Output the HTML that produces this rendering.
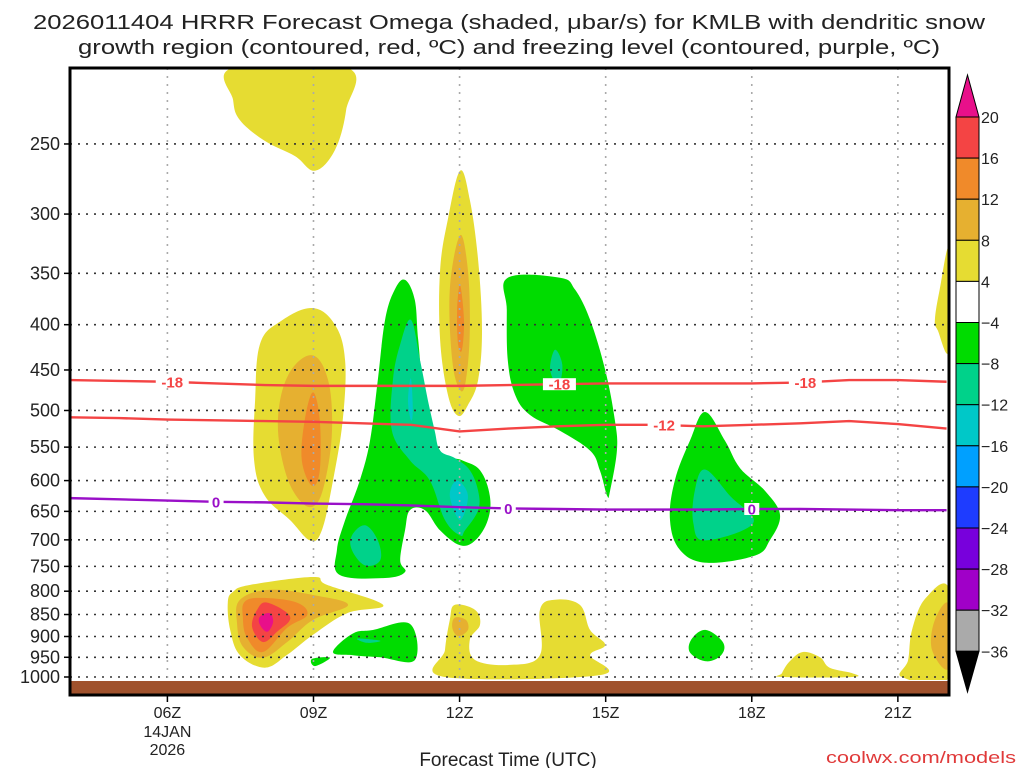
<!DOCTYPE html>
<html><head><meta charset="utf-8"><style>
html,body{margin:0;padding:0;background:#fff;}
svg{display:block;font-family:"Liberation Sans",sans-serif;}
</style></head><body>
<svg id="chart" width="1024" height="768" viewBox="0 0 1024 768" xmlns="http://www.w3.org/2000/svg">
<text x="33" y="29" font-size="20" textLength="952" lengthAdjust="spacingAndGlyphs" fill="#222">2026011404 HRRR Forecast Omega (shaded, μbar/s) for KMLB with dendritic snow</text>
<text x="78" y="54" font-size="20" textLength="862" lengthAdjust="spacingAndGlyphs" fill="#222">growth region (contoured, red, ºC) and freezing level (contoured, purple, ºC)</text>
<g id="fills"></g>
<g id="grid"></g>
<g id="lines"></g>
<rect x="70" y="681" width="879" height="13" fill="#a0522d"/>
<rect x="70" y="68" width="879" height="627" fill="none" stroke="#000" stroke-width="3"/>
<g id="axes"></g>
<g id="cbar"></g>
<text x="508" y="766" font-size="19" text-anchor="middle" fill="#222">Forecast Time (UTC)</text>
<text x="1016" y="763" font-size="17" text-anchor="end" fill="#e03a3a" textLength="190" lengthAdjust="spacingAndGlyphs">coolwx.com/models</text>
</svg>
<script>
// ---- data ----
const hourTicks=[6,9,12,15,18,21];
const hourLabels=["06Z","09Z","12Z","15Z","18Z","21Z"];
const pressureTicks=[250,300,350,400,450,500,550,600,650,700,750,800,850,900,950,1000];
const lineHours=[4,5,6,7,8,9,10,11,12,13,14,15,16,17,18,19,20,21,22];
const isoMinus18=[462,463,464,466,468,469,469,469,469,468,467,466,466,466,466,465,462,462,464];
const isoMinus12=[509,510,512,513,514,515,517,519,528,524,521,519,519,521,519,517,514,518,524];
const isoZero=[628,630,632,634,635,637,638,640,643,645,646,647,647,647,646,646,647,648,648];
const cbarLevels=["20","16","12","8","4","−4","−8","−12","−16","−20","−24","−28","−32","−36"];
const cbarColors=["#f44444","#f08a2a","#e6b030","#e6dc32","#ffffff","#00dc00","#00d28a","#00c8c8","#00a0ff","#1e3cff","#7800dc","#a000c8","#aaaaaa"];
// blobs: [level, [[hour,pressure],...]]
const blobs=[
["y",[[7.35,205],[9.69,205],[9.67,229],[9.44,254],[9.03,268],[8.62,258],[8.0,248],[7.49,235],[7.35,223]]],
["y",[[8.97,383],[9.44,400],[9.65,439],[9.6,513],[9.4,600],[9.17,683],[8.93,701],[8.52,665],[8.0,624],[7.78,569],[7.8,487],[7.9,421],[8.31,397]]],
["g",[[8.97,433],[9.3,462],[9.38,527],[9.24,600],[9.03,640],[8.72,632],[8.41,584],[8.27,513],[8.48,456]]],
["o",[[8.99,477],[9.13,513],[9.13,584],[8.97,608],[8.76,569],[8.82,513]]],
["y",[[7.24,824],[7.35,801],[7.7,787],[8.99,771],[9.28,787],[10.43,829],[9.69,847],[8.99,896],[8.46,944],[8.0,976],[7.49,945],[7.29,885]]],
["g",[[7.49,818],[8.1,797],[8.99,808],[9.71,829],[8.99,862],[8.46,913],[7.96,951],[7.55,924],[7.43,869]]],
["o",[[7.59,822],[7.96,814],[8.66,824],[8.87,851],[8.46,880],[7.96,937],[7.63,902],[7.55,857]]],
["r",[[7.84,840],[8.05,824],[8.52,855],[8.25,889],[7.96,913],[7.74,878]]],
["m",[[7.9,855],[8.1,847],[8.17,867],[8.05,889],[7.9,873]]],
["y",[[12.01,268],[12.21,289],[12.38,338],[12.46,406],[12.38,462],[12.17,493],[11.97,507],[11.76,480],[11.6,416],[11.6,347],[11.76,304]]],
["g",[[12.01,317],[12.17,347],[12.21,406],[12.13,462],[12.01,474],[11.85,439],[11.8,365]]],
["o",[[12.01,361],[12.09,395],[12.05,427],[11.97,421],[11.95,385]]],
["y",[[11.9,829],[12.32,840],[12.42,873],[12.21,908],[12.32,957],[13.03,969],[13.65,945],[13.65,840],[13.96,818],[14.47,829],[14.68,885],[14.99,920],[14.68,945],[14.88,995],[11.7,1000],[11.7,932],[11.8,862]]],
["g",[[11.9,857],[12.13,862],[12.17,885],[11.97,899],[11.85,880]]],
["y",[[18.62,990],[18.78,960],[19.05,937],[19.4,950],[19.6,976],[20.06,990],[20.06,1000],[18.62,1000]]],
["y",[[22.05,795],[21.56,816],[21.29,885],[21.21,957],[21.08,1000],[22.05,1000]]],
["g",[[22.05,829],[21.76,862],[21.7,932],[22.05,976]]],
["y",[[22.05,329],[21.86,365],[21.76,395],[21.82,406],[22.05,427]]],
["G",[[10.88,356],[11.08,375],[11.15,416],[11.29,487],[11.6,555],[12.05,569],[12.42,584],[12.62,624],[12.58,665],[12.32,701],[12.01,710],[11.6,683],[11.29,648],[10.98,648],[10.88,683],[10.78,738],[10.88,761],[10.47,773],[9.54,767],[9.48,719],[9.65,665],[9.95,600],[10.16,541],[10.32,462],[10.47,395],[10.67,365]]],
["T",[[11.0,395],[11.19,439],[11.35,487],[11.49,527],[11.6,555],[11.91,566],[12.21,584],[12.38,616],[12.38,648],[12.11,683],[12.01,692],[11.7,665],[11.39,600],[10.98,569],[10.61,527],[10.63,462],[10.78,421]]],
["C",[[11.95,600],[12.17,624],[12.01,665],[11.8,624]]],
["C",[[11.0,460],[11.04,500],[11.0,513],[10.94,487]]],
["T",[[10.06,674],[10.32,701],[10.37,738],[10.06,748],[9.79,719],[9.79,692]]],
["G",[[8.97,954],[9.34,951],[9.03,972]]],
["G",[[9.4,937],[9.81,893],[10.22,885],[10.98,871],[11.08,957],[10.37,950],[9.81,945]]],
["T",[[9.9,905],[10.37,910],[10.1,915]]],
["G",[[12.99,354],[14.06,354],[14.37,365],[14.68,395],[14.99,450],[15.19,513],[15.23,555],[15.09,616],[15.03,624],[14.88,584],[14.68,555],[14.06,527],[13.45,506],[13.14,480],[12.99,439],[12.97,385]]],
["T",[[13.96,427],[14.11,444],[14.03,468],[13.86,450]]],
["G",[[17.04,502],[17.45,541],[17.76,581],[18.27,616],[18.58,656],[18.37,701],[18.07,729],[17.08,743],[16.53,719],[16.32,665],[16.42,600],[16.73,541]]],
["T",[[17.04,583],[17.55,624],[18.03,670],[17.04,701],[16.8,670],[16.83,616]]],
["G",[[17.06,885],[17.41,914],[17.37,945],[17.06,960],[16.73,938],[16.77,905]]]
];
const levelColor={y:"#e6dc32",g:"#e6b030",o:"#f08a2a",r:"#f44444",m:"#e8108a",G:"#00dc00",T:"#00d28a",C:"#00c8c8"};
// ---- scales ----
const X0=70,X1=949,H0=4,H1=22.05;
function xs(h){return X0+(h-H0)*(X1-X0)/(H1-H0);}
function ys(p){return 677-Math.log(1000/p)*384.5;}
const NS="http://www.w3.org/2000/svg";
function mk(tag,attrs,parent){const e=document.createElementNS(NS,tag);for(const k in attrs)e.setAttribute(k,attrs[k]);parent.appendChild(e);return e;}
function smoothClosed(pts){
 const n=pts.length;let d="M"+pts[0][0].toFixed(1)+","+pts[0][1].toFixed(1);
 for(let i=0;i<n;i++){const p0=pts[(i-1+n)%n],p1=pts[i],p2=pts[(i+1)%n],p3=pts[(i+2)%n];const t=0.18;
  d+="C"+(p1[0]+(p2[0]-p0[0])*t).toFixed(1)+","+(p1[1]+(p2[1]-p0[1])*t).toFixed(1)+" "+(p2[0]-(p3[0]-p1[0])*t).toFixed(1)+","+(p2[1]-(p3[1]-p1[1])*t).toFixed(1)+" "+p2[0].toFixed(1)+","+p2[1].toFixed(1);}
 return d+"Z";}
const fills=document.getElementById('fills');
const defs=mk('defs',{},document.getElementById('chart'));
const clip=mk('clipPath',{id:'plotclip'},defs);
mk('rect',{x:70,y:68,width:879,height:612},clip);
fills.setAttribute('clip-path','url(#plotclip)');
blobs.forEach((b,i)=>{
 const pts=b[1].map(q=>[xs(q[0]),ys(q[1])]);
 const el=mk('path',{d:smoothClosed(pts),fill:levelColor[b[0]]},fills);
 
 
});
// grid
const grid=document.getElementById('grid');
pressureTicks.forEach(p=>{const y=ys(p);
 const l=mk('line',{x1:70,x2:949,y1:y,y2:y,stroke:"#333","stroke-width":1.6,"stroke-dasharray":"2 6"},grid);
 
 });
hourTicks.forEach(h=>{const x=xs(h);
 const l=mk('line',{x1:x,x2:x,y1:68,y2:695,stroke:"#aaa","stroke-width":1.6,"stroke-dasharray":"2 6"},grid);
 
 });
// contour lines
const lines=document.getElementById('lines');
function drawIso(vals,color,name,labels,lab){
 const pts=lineHours.map((h,i)=>[xs(h),ys(vals[i])]);
 const l=mk('polyline',{points:pts.map(p=>p.join(",")).join(" "),fill:"none",stroke:color,"stroke-width":2.4},lines);
 
 
 labels.forEach(h=>{const i=lineHours.indexOf(Math.floor(h));const f=h-Math.floor(h);
  const v=vals[i]+(vals[Math.min(i+1,vals.length-1)]-vals[i])*f;const x=xs(h),y=ys(v);
  const w=lab.length*9+6;
  mk('rect',{x:x-w/2,y:y-6,width:w,height:12,fill:"#fff"},lines);
  const t=mk('text',{x:x,y:y+5.5,"font-size":15,"font-weight":"bold","text-anchor":"middle",fill:color},lines);t.textContent=lab;
  
  });
}
drawIso(isoMinus18,"#f44444","isotherm-minus18",[6.1,14.05,19.1],"-18");
drawIso(isoMinus12,"#f44444","isotherm-minus12",[16.2],"-12");
drawIso(isoZero,"#9a10c8","freezing-level",[7,13,18],"0");
// axes
const axes=document.getElementById('axes');
pressureTicks.forEach(p=>{const y=ys(p);
 mk('line',{x1:64,x2:70,y1:y,y2:y,stroke:"#000","stroke-width":1.5},axes);
 const t=mk('text',{x:60,y:y+6,"font-size":18,"text-anchor":"end",fill:"#222"},axes);t.textContent=p;
 
 });
hourTicks.forEach((h,i)=>{const x=xs(h);
 mk('line',{x1:x,x2:x,y1:695,y2:702,stroke:"#000","stroke-width":1.5},axes);
 const t=mk('text',{x:x,y:718,"font-size":16,"text-anchor":"middle",fill:"#222"},axes);t.textContent=hourLabels[i];
 
 });
[["14JAN",737],["2026",755]].forEach(a=>{const t=mk('text',{x:xs(6),y:a[1],"font-size":16,"text-anchor":"middle",fill:"#222"},axes);t.textContent=a[0];
 
 });
// colorbar
const cb=document.getElementById('cbar');
const cx0=956,cx1=979,ctop=117,bh=41.1;
mk('polygon',{points:`${cx0},${ctop} ${cx1},${ctop} ${(cx0+cx1)/2},75`,fill:"#e8108a",stroke:"#000","stroke-width":1},cb);
cbarColors.forEach((c,i)=>{const r=mk('rect',{x:cx0,y:ctop+i*bh,width:cx1-cx0,height:bh,fill:c,stroke:"#000","stroke-width":1},cb);
 
 });
const cbot=ctop+cbarColors.length*bh;
mk('polygon',{points:`${cx0},${cbot} ${cx1},${cbot} ${(cx0+cx1)/2},692`,fill:"#000",stroke:"#000","stroke-width":1},cb);
cbarLevels.forEach((s,i)=>{const t=mk('text',{x:981,y:ctop+i*bh+6,"font-size":16,fill:"#222"},cb);t.textContent=s;
 
 });
</script>
</body></html>
